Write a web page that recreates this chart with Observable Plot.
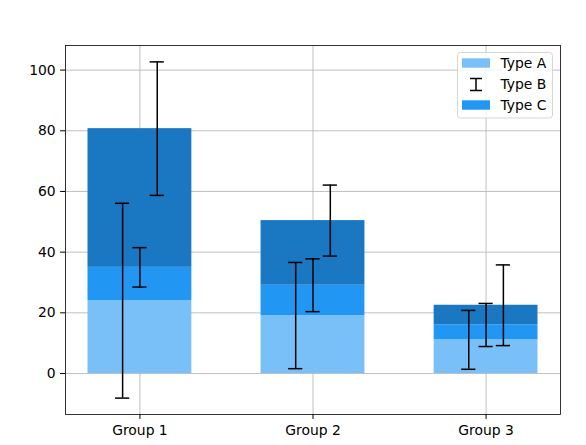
<!DOCTYPE html>
<html>
<head>
<meta charset="utf-8">
<script src="https://cdn.jsdelivr.net/npm/d3@7"></script>
<script src="https://cdn.jsdelivr.net/npm/@observablehq/plot@0.6"></script>
<style>
  html, body { margin: 0; padding: 0; background: #fff; }
  #chart svg { display: block; }
</style>
</head>
<body>
<div id="chart"></div>
<script>
const groups = ["Group 1", "Group 2", "Group 3"];
const typeA = [24.0, 19.1, 11.1];     // bottom segment
const typeC = [11.0, 10.0, 4.9];      // middle segment
const typeTop = [45.7, 21.3, 6.5];    // top segment
const errA = [32.1, 17.5, 9.7];
const errB = [6.5, 8.7, 7.1];
const errC = [22.0, 11.7, 13.3];
const yTicks = [0, 20, 40, 60, 80, 100];
const legendLabels = ["Type A", "Type B", "Type C"];

const colA = "#7ac0f8", colC = "#2196f3", colTop = "#1a77c1";
const barWidth = 0.6, errOffset = 0.1, capHalf = 0.041;
const FS = 13.9;

const segs = [];
groups.forEach((g, i) => {
  const b1 = typeA[i], b2 = b1 + typeC[i], b3 = b2 + typeTop[i];
  segs.push({i, y1: 0, y2: b1, fill: colA});
  segs.push({i, y1: b1, y2: b2, fill: colC});
  segs.push({i, y1: b2, y2: b3, fill: colTop});
});
const errs = [];
groups.forEach((g, i) => {
  const b1 = typeA[i], b2 = b1 + typeC[i], b3 = b2 + typeTop[i];
  errs.push({x: i - errOffset, y: b1, e: errA[i]});
  errs.push({x: i, y: b2, e: errB[i]});
  errs.push({x: i + errOffset, y: b3, e: errC[i]});
});

const W = 586, H = 445;
const plot = Plot.plot({
  width: W, height: H,
  marginLeft: 65, marginRight: 26, marginTop: 45, marginBottom: 31,
  style: {fontFamily: "DejaVu Sans", fontSize: FS + "px", color: "black", background: "white"},
  x: {domain: [-0.43, 2.43], label: null},
  y: {domain: [-13.5, 108.1], label: null},
  marks: [
    Plot.ruleY(yTicks, {stroke: "#b0b0b0", strokeWidth: 0.8, strokeOpacity: 1}),
    Plot.ruleX(groups.map((g, i) => i), {stroke: "#b0b0b0", strokeWidth: 0.8, strokeOpacity: 1}),
    Plot.rect(segs, {x1: d => d.i - barWidth/2, x2: d => d.i + barWidth/2, y1: "y1", y2: "y2", fill: "fill", inset: 0}),
    Plot.ruleX(errs, {x: "x", y1: d => d.y - d.e, y2: d => d.y + d.e, stroke: "black", strokeWidth: 1.5}),
    Plot.ruleY(errs, {y: d => d.y - d.e, x1: d => d.x - capHalf, x2: d => d.x + capHalf, stroke: "black", strokeWidth: 1.5}),
    Plot.ruleY(errs, {y: d => d.y + d.e, x1: d => d.x - capHalf, x2: d => d.x + capHalf, stroke: "black", strokeWidth: 1.5}),
    Plot.frame({stroke: "black", strokeWidth: 0.8}),
    Plot.axisY({ticks: yTicks, tickSize: 4.9, tickPadding: 4.9, tickFormat: d => String(d), label: null, fontSize: FS}),
    Plot.axisX({ticks: [0, 1, 2], tickSize: 4.9, tickPadding: 6.2, tickFormat: i => groups[i], label: null, fontSize: FS})
  ]
});
document.getElementById("chart").appendChild(plot);

// legend inside the axes (upper right)
const svg = d3.select(plot);
const lg = svg.append("g").attr("font-family", "DejaVu Sans").attr("font-size", FS + "px").attr("text-anchor", "start");
lg.append("rect").attr("x", 457.5).attr("y", 52.5).attr("width", 95).attr("height", 65.5)
  .attr("rx", 3).attr("fill", "white").attr("fill-opacity", 0.8).attr("stroke", "#cccccc").attr("stroke-width", 0.8);
const rowsY = [63, 84.5, 105];
// Type A patch
lg.append("rect").attr("x", 462).attr("y", rowsY[0] - 4.7).attr("width", 28).attr("height", 9.4).attr("fill", colA);
// Type B errorbar glyph
lg.append("line").attr("x1", 476).attr("x2", 476).attr("y1", rowsY[1] - 6).attr("y2", rowsY[1] + 6).attr("stroke", "black").attr("stroke-width", 1.5);
lg.append("line").attr("x1", 470).attr("x2", 482).attr("y1", rowsY[1] - 6).attr("y2", rowsY[1] - 6).attr("stroke", "black").attr("stroke-width", 1.5);
lg.append("line").attr("x1", 470).attr("x2", 482).attr("y1", rowsY[1] + 6).attr("y2", rowsY[1] + 6).attr("stroke", "black").attr("stroke-width", 1.5);
// Type C patch
lg.append("rect").attr("x", 462).attr("y", rowsY[2] - 4.7).attr("width", 28).attr("height", 9.4).attr("fill", colC);
legendLabels.forEach((t, k) => {
  lg.append("text").attr("x", 500.5).attr("y", rowsY[k]).attr("dy", "0.35em").attr("text-anchor", "start").attr("fill", "black").text(t);
});
</script>
</body>
</html>
